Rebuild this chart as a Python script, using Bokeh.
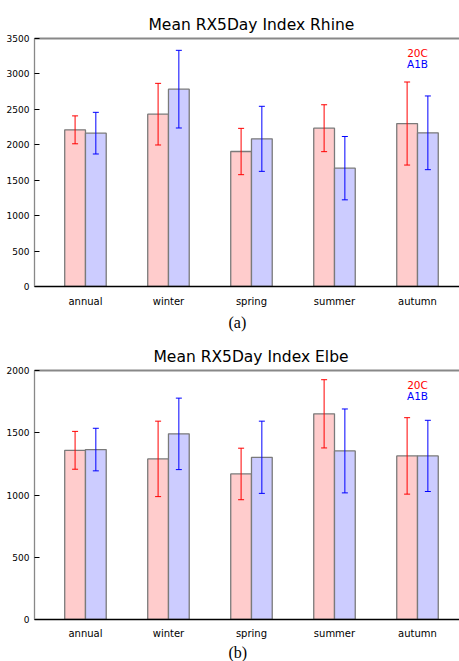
from bokeh.plotting import figure
from bokeh.models import (Range1d, SingleIntervalTicker, FixedTicker, ColumnDataSource,
                          Label, LinearAxis, Title)
from bokeh.layouts import column
from bokeh.embed import file_html
from bokeh.resources import INLINE

categories = ["annual", "winter", "spring", "summer", "autumn"]
series_labels = ["20C", "A1B"]

rhine_20c = [2211, 2432, 1905, 2234, 2300]
rhine_20c_err = [197, 435, 327, 331, 586]
rhine_a1b = [2164, 2785, 2084, 1670, 2169]
rhine_a1b_err = [294, 548, 459, 447, 520]

elbe_20c = [1359, 1290, 1169, 1652, 1314]
elbe_20c_err = [152, 303, 207, 274, 307]
elbe_a1b = [1365, 1491, 1303, 1354, 1314]
elbe_a1b_err = [171, 287, 290, 337, 286]

FILLS = ["#ffcccc", "#ccccff"]
LINES = ["#ff0000", "#0000ff"]
BAR_W = 0.25


def panel(title, title_off, caption, means, errs, ymax, height, btop, bbot,
          cap_standoff, tick_standoff):
    p = figure(width=459, height=height,
               x_range=Range1d(-0.614, 4.506), y_range=Range1d(0, ymax),
               output_backend="svg", toolbar_location=None,
               min_border_left=34, min_border_right=0,
               min_border_top=btop, min_border_bottom=bbot, title=title)
    p.outline_line_color = None
    p.grid.visible = False
    p.background_fill_color = "white"
    p.title.text_font = "DejaVu Sans"
    p.title.text_font_size = "15.5px"
    p.title.text_font_style = "normal"
    p.title.text_color = "black"
    p.title.align = "left"
    p.title.offset = title_off
    p.title.standoff = 10

    for k in range(2):
        xs = [i + (k - 0.5) * BAR_W for i in range(len(categories))]
        src = ColumnDataSource(dict(
            x=xs, top=means[k],
            upper=[m + e for m, e in zip(means[k], errs[k])],
            lower=[m - e for m, e in zip(means[k], errs[k])]))
        p.vbar(x="x", top="top", bottom=0, width=BAR_W, source=src,
               fill_color=FILLS[k], line_color="#7a7a7a", line_width=1.3)
        p.segment(x0="x", y0="lower", x1="x", y1="upper", source=src,
                  line_color=LINES[k], line_width=1)
        p.scatter(x="x", y="upper", marker="dash", size=6, source=src,
                  line_color=LINES[k], line_width=1)
        p.scatter(x="x", y="lower", marker="dash", size=6, source=src,
                  line_color=LINES[k], line_width=1)

    # legend texts
    for k in range(2):
        p.add_layout(Label(x=len(categories) - 1, y=ymax * (0.941 - 0.042 * k),
                           text=series_labels[k], text_color=LINES[k],
                           text_font="DejaVu Sans", text_font_size="10.5px",
                           text_align="center", text_baseline="middle"))

    xa = p.xaxis[0]
    xa.ticker = FixedTicker(ticks=list(range(len(categories))))
    xa.major_label_overrides = {i: c for i, c in enumerate(categories)}
    xa.major_tick_line_color = None
    xa.minor_tick_line_color = None
    xa.axis_line_color = "black"
    xa.axis_line_width = 1.5
    xa.major_label_text_font = "DejaVu Sans"
    xa.major_label_text_font_size = "10px"
    xa.major_label_text_color = "black"
    xa.major_label_standoff = tick_standoff

    # panel caption below the axis
    cap = Title(text=caption, align="left", offset=194, standoff=cap_standoff,
                text_font="Liberation Serif", text_font_size="16px",
                text_font_style="normal", text_color="black")
    p.add_layout(cap, "below")

    ya = p.yaxis[0]
    ya.ticker = SingleIntervalTicker(interval=500)
    ya.minor_tick_line_color = None
    ya.major_tick_in = 5
    ya.major_tick_out = 0
    ya.major_tick_line_color = "black"
    ya.axis_line_color = "#888888"
    ya.axis_line_width = 1.3
    ya.major_label_text_font = "DejaVu Sans"
    ya.major_label_text_font_size = "9px"
    ya.major_label_text_color = "black"
    ya.major_label_standoff = 1

    top = LinearAxis(ticker=FixedTicker(ticks=[]), axis_line_color="#888888",
                     axis_line_width=2, major_tick_line_color=None,
                     minor_tick_line_color=None, major_label_text_font_size="0px")
    p.add_layout(top, "above")
    return p


p1 = panel("Mean RX5Day Index Rhine", 114, "(a)", [rhine_20c, rhine_a1b],
           [rhine_20c_err, rhine_a1b_err], 3500, 338, 38, 52, 4, 3)
p2 = panel("Mean RX5Day Index Elbe", 119, "(b)", [elbe_20c, elbe_a1b],
           [elbe_20c_err, elbe_a1b_err], 2000, 323, 32, 42, 0, 2)

layout = column(p1, p2, spacing=0)
open("out.html", "w").write(file_html(layout, INLINE))
